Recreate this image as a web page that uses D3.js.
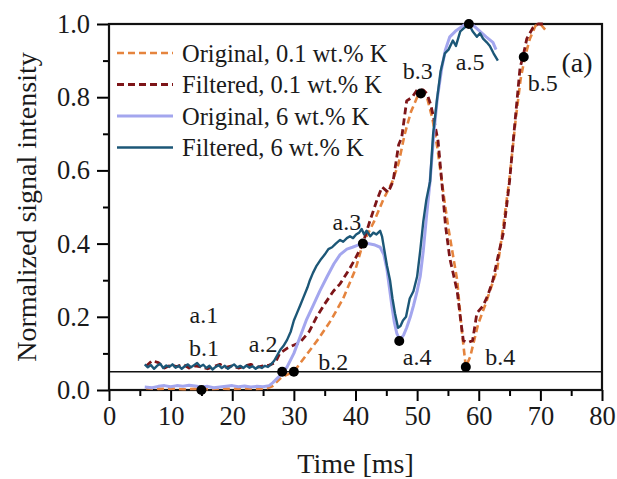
<!DOCTYPE html>
<html>
<head>
<meta charset="utf-8">
<script src="https://cdn.jsdelivr.net/npm/d3@7"></script>
<style>
  body { margin: 0; background: #fff; }
  text { font-family: "Liberation Serif", "Times New Roman", serif; fill: #1a1a1a; }
</style>
</head>
<body>
<svg width="617" height="479"></svg>
<script>
// time [ms], normalized intensity
var origLow = [[6,0.005],[8,0.003],[10,0.004],[12,0.002],[14,0.003],[16,0.002],[18,0.004],[20,0.003],[22,0.004],[24,0.003],[25.5,0.004],[26.5,0.01],[28,0.035],[30,0.05],[32,0.095],[34,0.14],[36,0.19],[38,0.25],[40,0.33],[41.2,0.40],[43,0.46],[44.5,0.52],[46,0.57],[47,0.62],[48,0.70],[49,0.76],[50,0.80],[50.8,0.815],[51.6,0.80],[52.5,0.74],[53.3,0.66],[54,0.57],[55,0.45],[56,0.35],[56.5,0.30],[57.2,0.17],[57.9,0.063],[58.6,0.09],[59.9,0.18],[61,0.23],[62,0.28],[63,0.33],[64,0.45],[65,0.58],[66,0.74],[66.8,0.85],[67.5,0.91],[68.3,0.96],[69.2,0.995],[70,1.0],[71,0.98]];

var filtLow = [[6,0.065],[7,0.08],[8,0.075],[9,0.06],[10,0.068],[11,0.064],[12,0.07],[13,0.06],[14,0.066],[15,0.063],[16,0.058],[17,0.064],[18,0.07],[19,0.062],[20,0.066],[21,0.06],[22,0.065],[23,0.07],[24,0.062],[25,0.066],[26,0.068],[27,0.075],[27.7,0.10],[29,0.115],[31,0.13],[32.5,0.16],[33.7,0.20],[35,0.235],[36.4,0.27],[37.5,0.29],[39,0.33],[40,0.36],[41.2,0.40],[42.3,0.46],[43.5,0.52],[44.3,0.555],[45.3,0.54],[46.1,0.57],[47,0.67],[47.5,0.69],[48.3,0.79],[49.2,0.80],[50,0.82],[51,0.82],[51.6,0.81],[52.2,0.78],[52.6,0.75],[53.4,0.68],[54,0.57],[54.6,0.45],[55.3,0.36],[56.5,0.27],[57,0.2],[57.5,0.135],[58.3,0.13],[59,0.135],[59.7,0.21],[60.7,0.23],[61.5,0.26],[62.3,0.30],[63.2,0.37],[64,0.43],[65,0.57],[65.7,0.70],[66.2,0.79],[66.7,0.88],[67.3,0.92],[67.8,0.96],[68.8,0.99],[69.6,1.0],[70.4,1.0]];

var origHigh = [[5.8,0.008],[7,0.006],[8,0.01],[9,0.012],[10,0.009],[11,0.012],[12,0.01],[13,0.013],[14,0.011],[15,0.008],[16,0.01],[17,0.006],[18,0.008],[19,0.01],[20,0.012],[21,0.009],[22,0.011],[23,0.008],[24,0.01],[25,0.009],[26,0.012],[26.6,0.02],[27.5,0.035],[28.9,0.063],[30,0.1],[31,0.145],[32,0.19],[33.1,0.23],[34.2,0.27],[35.4,0.31],[36.5,0.345],[37.5,0.37],[38.6,0.385],[39.5,0.39],[40.3,0.395],[41.2,0.40],[42,0.40],[43,0.397],[44,0.39],[44.6,0.37],[45.1,0.33],[45.5,0.28],[45.9,0.23],[46.3,0.185],[46.7,0.155],[47.2,0.137],[47.8,0.15],[48.3,0.17],[48.9,0.2],[49.4,0.23],[50,0.27],[50.5,0.31],[51,0.38],[51.5,0.47],[52.1,0.57],[52.7,0.70],[53.3,0.80],[54,0.88],[54.6,0.93],[55.3,0.965],[56.2,0.98],[57,0.99],[57.7,0.998],[58.4,1.0],[59.2,0.995],[60.2,0.98],[61.2,0.965],[62.3,0.95],[62.8,0.93]];

var filtHigh = [[5.8,0.07],[6.3,0.062],[6.8,0.068],[7.3,0.058],[7.8,0.066],[8.3,0.072],[8.8,0.06],[9.3,0.067],[9.8,0.063],[10.3,0.07],[10.8,0.061],[11.3,0.066],[11.8,0.058],[12.3,0.065],[12.8,0.07],[13.3,0.062],[13.8,0.068],[14.3,0.074],[14.8,0.064],[15.3,0.069],[15.8,0.06],[16.3,0.066],[16.8,0.056],[17.3,0.063],[17.8,0.068],[18.3,0.06],[18.8,0.066],[19.3,0.058],[19.8,0.064],[20.3,0.07],[20.8,0.062],[21.3,0.066],[21.8,0.06],[22.3,0.067],[22.8,0.061],[23.3,0.065],[23.8,0.058],[24.3,0.064],[24.8,0.06],[25.3,0.066],[25.8,0.063],[26.3,0.07],[26.8,0.08],[27.3,0.095],[27.8,0.11],[28.3,0.12],[28.9,0.137],[29.5,0.16],[30,0.19],[30.5,0.21],[31,0.23],[31.6,0.255],[32.2,0.28],[32.6,0.30],[33.1,0.32],[33.7,0.34],[34.3,0.355],[35,0.37],[35.6,0.385],[36.2,0.39],[36.8,0.40],[37.5,0.41],[38,0.405],[38.6,0.415],[39.1,0.42],[39.6,0.415],[40.1,0.425],[40.6,0.43],[41,0.44],[41.4,0.425],[41.8,0.435],[42.4,0.42],[42.9,0.43],[43.4,0.425],[44,0.435],[44.3,0.42],[44.6,0.39],[45.1,0.34],[45.6,0.30],[46,0.25],[46.4,0.21],[46.9,0.17],[47.3,0.175],[47.7,0.19],[48.2,0.2],[48.8,0.25],[49.4,0.27],[50,0.31],[50.5,0.38],[51,0.46],[51.5,0.52],[52.1,0.57],[52.6,0.70],[53.2,0.79],[53.8,0.87],[54.5,0.92],[55.1,0.93],[55.8,0.955],[56.3,0.94],[57,0.98],[57.7,0.99],[58.4,1.0],[59,0.98],[59.7,0.965],[60.2,0.975],[60.7,0.96],[61.3,0.95],[61.8,0.94],[62.4,0.92],[63.1,0.90]];

var threshold = 0.05;

var markers = [
  {t: 15, v: 0}, {t: 28.1, v: 0.05}, {t: 30, v: 0.05}, {t: 41.2, v: 0.40},
  {t: 47.1, v: 0.134}, {t: 50.6, v: 0.81}, {t: 57.9, v: 0.063},
  {t: 58.4, v: 1.0}, {t: 67.3, v: 0.91}
];

// label text with anchor position in data units
var labels = [
  {text: "a.1", t: 15.4, v: 0.205}, {text: "b.1", t: 15.4, v: 0.115},
  {text: "a.2", t: 25.0, v: 0.128}, {text: "b.2", t: 36.4, v: 0.077},
  {text: "a.3", t: 38.6, v: 0.46}, {text: "a.4", t: 50.0, v: 0.09},
  {text: "b.4", t: 63.5, v: 0.09}, {text: "b.3", t: 50.1, v: 0.872},
  {text: "a.5", t: 58.6, v: 0.896}, {text: "b.5", t: 70.4, v: 0.84}
];

var xTicks = [0, 10, 20, 30, 40, 50, 60, 70, 80];
var yTicks = [0, 0.2, 0.4, 0.6, 0.8, 1.0];

var series = [
  {name: "Original, 0.1 wt.% K", data: origLow, color: "#e5843e", width: 2.6, dash: "7,4"},
  {name: "Filtered, 0.1 wt.% K", data: filtLow, color: "#7d1518", width: 2.8, dash: "7,4"},
  {name: "Original, 6 wt.% K", data: origHigh, color: "#a3a6ee", width: 3, dash: null},
  {name: "Filtered, 6 wt.% K", data: filtHigh, color: "#1c5777", width: 2.4, dash: null}
];

var svg = d3.select("svg");
var plotL = 109, plotR = 602, plotT = 24, plotB = 390;

var x = d3.scaleLinear().domain([0, 80]).range([plotL, plotR]);
var y = d3.scaleLinear().domain([0, 1]).range([plotB, plotT]);

// minor ticks
svg.append("g")
    .attr("transform", "translate(0," + plotB + ")")
    .call(d3.axisBottom(x).tickValues(d3.range(5, 80, 10)).tickSize(6).tickFormat(""))
    .call(function(g) { g.select(".domain").remove(); })
    .selectAll("line").attr("stroke-width", 2);
svg.append("g")
    .attr("transform", "translate(" + plotL + ",0)")
    .call(d3.axisLeft(y).tickValues([0.1, 0.3, 0.5, 0.7, 0.9]).tickSize(6).tickFormat(""))
    .call(function(g) { g.select(".domain").remove(); })
    .selectAll("line").attr("stroke-width", 2);

var xAxis = svg.append("g")
    .attr("transform", "translate(0," + plotB + ")")
    .call(d3.axisBottom(x).tickValues(xTicks).tickSize(11).tickSizeOuter(0).tickPadding(5));
xAxis.select(".domain").remove();
xAxis.selectAll("line").attr("stroke-width", 2);
xAxis.selectAll("text").attr("font-size", 26.5).attr("font-family", "Liberation Serif");

var yAxis = svg.append("g")
    .attr("transform", "translate(" + plotL + ",0)")
    .call(d3.axisLeft(y).tickValues(yTicks).tickSize(12).tickSizeOuter(0).tickPadding(7).tickFormat(d3.format(".1f")));
yAxis.select(".domain").remove();
yAxis.selectAll("line").attr("stroke-width", 2);
yAxis.selectAll("text").attr("font-size", 26.5).attr("font-family", "Liberation Serif");

// frame
svg.append("rect")
    .attr("x", plotL).attr("y", plotT)
    .attr("width", plotR - plotL).attr("height", plotB - plotT)
    .attr("fill", "none").attr("stroke", "#111").attr("stroke-width", 2.2);

// threshold line
svg.append("line")
    .attr("x1", plotL).attr("x2", plotR)
    .attr("y1", y(threshold)).attr("y2", y(threshold))
    .attr("stroke", "#111").attr("stroke-width", 1.5);

var line = d3.line()
    .x(function(d) { return x(d[0]); })
    .y(function(d) { return y(d[1]); });

series.forEach(function(s) {
  svg.append("path")
      .datum(s.data)
      .attr("d", line)
      .attr("fill", "none")
      .attr("stroke", s.color)
      .attr("stroke-width", s.width)
      .attr("stroke-dasharray", s.dash)
      .attr("stroke-linejoin", "round");
});

svg.selectAll(".marker")
    .data(markers)
  .enter().append("circle")
    .attr("class", "marker")
    .attr("cx", function(d) { return x(d.t); })
    .attr("cy", function(d) { return y(d.v); })
    .attr("r", 5)
    .attr("fill", "#000");

svg.selectAll(".lbl")
    .data(labels)
  .enter().append("text")
    .attr("class", "lbl")
    .attr("x", function(d) { return x(d.t); })
    .attr("y", function(d) { return y(d.v); })
    .attr("text-anchor", "middle")
    .attr("dy", "0.35em")
    .attr("font-size", 24)
    .text(function(d) { return d.text; });

svg.append("text")
    .attr("x", 577).attr("y", 62)
    .attr("text-anchor", "middle").attr("dy", "0.35em")
    .attr("font-size", 28)
    .text("(a)");

// legend
var legend = svg.selectAll(".legend")
    .data(series)
  .enter().append("g")
    .attr("class", "legend")
    .attr("transform", function(d, i) { return "translate(117," + (53 + i * 31.5) + ")"; });

legend.append("line")
    .attr("x1", 0).attr("x2", 56)
    .attr("stroke", function(d) { return d.color; })
    .attr("stroke-width", function(d) { return d.width; })
    .attr("stroke-dasharray", function(d) { return d.dash; });

legend.append("text")
    .attr("x", 65)
    .attr("dy", "0.35em")
    .attr("font-size", 24.5)
    .text(function(d) { return d.name; });

// axis titles
svg.append("text")
    .attr("x", (plotL + plotR) / 2).attr("y", 473)
    .attr("text-anchor", "middle")
    .attr("font-size", 28)
    .text("Time [ms]");

svg.append("text")
    .attr("transform", "translate(36,207) rotate(-90)")
    .attr("text-anchor", "middle")
    .attr("font-size", 28)
    .text("Normalized signal intensity");
</script>
</body>
</html>
